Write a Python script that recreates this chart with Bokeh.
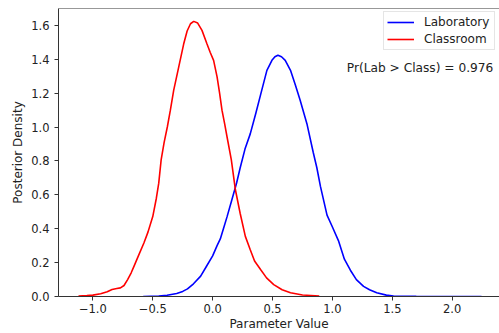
from bokeh.plotting import figure
from bokeh.models import Range1d, FixedTicker, Span, Label, Legend, LegendItem
from bokeh.embed import file_html
from bokeh.resources import INLINE

# Classroom posterior density (red)
class_x = [-1.12, -1.05, -1.0, -0.935, -0.88, -0.84, -0.80, -0.77, -0.74, -0.71,
           -0.68, -0.657, -0.62, -0.574, -0.54, -0.50, -0.47, -0.45, -0.43, -0.405,
           -0.378, -0.353, -0.325, -0.283, -0.242, -0.213, -0.185, -0.158, -0.125, -0.089,
           -0.047, -0.02, 0.008, 0.037, 0.058, 0.078, 0.10, 0.12, 0.156, 0.19,
           0.23, 0.273, 0.314, 0.35, 0.40, 0.45, 0.51, 0.58, 0.65, 0.75, 0.89]
class_y = [0.002, 0.005, 0.008, 0.016, 0.028, 0.041, 0.047, 0.051, 0.065, 0.10,
           0.14, 0.178, 0.24, 0.316, 0.38, 0.472, 0.58, 0.669, 0.806, 0.91,
           1.002, 1.10, 1.218, 1.355, 1.49, 1.567, 1.61, 1.624, 1.614, 1.571,
           1.49, 1.44, 1.394, 1.296, 1.20, 1.10, 1.02, 0.943, 0.806, 0.63,
           0.49, 0.355, 0.276, 0.21, 0.159, 0.11, 0.07, 0.04, 0.022, 0.009, 0.003]

# Laboratory posterior density (blue)
lab_x = [-0.58, -0.45, -0.38, -0.30, -0.25, -0.21, -0.16, -0.10, -0.05, 0.0,
         0.037, 0.064, 0.09, 0.12, 0.16, 0.20, 0.23, 0.27, 0.314, 0.36,
         0.40, 0.453, 0.495, 0.52, 0.545, 0.575, 0.606, 0.65, 0.69, 0.73,
         0.787, 0.84, 0.87, 0.90, 0.955, 1.00, 1.05, 1.10, 1.15, 1.20,
         1.26, 1.31, 1.37, 1.45, 1.51, 1.70, 2.00, 2.245]
lab_y = [0.0, 0.003, 0.007, 0.018, 0.03, 0.045, 0.075, 0.12, 0.18, 0.24,
         0.30, 0.34, 0.40, 0.47, 0.57, 0.67, 0.76, 0.87, 0.96, 1.08,
         1.19, 1.335, 1.394, 1.415, 1.424, 1.415, 1.394, 1.335, 1.25, 1.16,
         1.02, 0.85, 0.76, 0.65, 0.48, 0.41, 0.33, 0.22, 0.155, 0.10,
         0.06, 0.04, 0.022, 0.008, 0.003, 0.001, 0.0, 0.0]

x_ticks = [-1.0, -0.5, 0.0, 0.5, 1.0, 1.5, 2.0]
x_tick_labels = ["\u22121.0", "\u22120.5", "0.0", "0.5", "1.0", "1.5", "2.0"]
y_ticks = [0.0, 0.2, 0.4, 0.6, 0.8, 1.0, 1.2, 1.4, 1.6]
y_tick_labels = ["0.0", "0.2", "0.4", "0.6", "0.8", "1.0", "1.2", "1.4", "1.6"]

annotation_text = "Pr(Lab > Class) = 0.976"

FONT = "DejaVu Sans"
AX = "#333333"

p = figure(width=499, height=333, output_backend="svg", toolbar_location=None,
           x_range=Range1d(-1.287, 2.395), y_range=Range1d(0, 1.7),
           min_border_left=58, min_border_right=0, min_border_top=8,
           min_border_bottom=36)
p.outline_line_color = None
p.grid.visible = False
p.background_fill_color = "white"
p.border_fill_color = "white"

r_lab = p.line(lab_x, lab_y, line_color="blue", line_width=1.6)
r_class = p.line(class_x, class_y, line_color="red", line_width=1.6)

for ax in (p.xaxis[0], p.yaxis[0]):
    ax.axis_line_color = AX
    ax.axis_line_width = 1
    ax.major_tick_line_color = AX
    ax.major_tick_out = 4
    ax.major_tick_in = 0
    ax.minor_tick_line_color = None
    ax.major_label_text_font = FONT
    ax.major_label_text_font_size = "11.5px"
    ax.major_label_text_color = "#222222"
    ax.axis_label_text_font = FONT
    ax.axis_label_text_font_size = "12px"
    ax.axis_label_text_font_style = "normal"
    ax.axis_label_text_color = "#222222"

p.xaxis.ticker = FixedTicker(ticks=x_ticks)
p.xaxis.major_label_overrides = dict(zip(x_ticks, x_tick_labels))
p.xaxis.axis_label = "Parameter Value"
p.xaxis.major_label_standoff = 3
p.xaxis.axis_label_standoff = 1

p.yaxis.ticker = FixedTicker(ticks=y_ticks)
p.yaxis.major_label_overrides = dict(zip(y_ticks, y_tick_labels))
p.yaxis.axis_label = "Posterior Density"
p.yaxis.major_label_standoff = 5
p.yaxis.axis_label_standoff = 3

top_spine = Span(location=1.7, dimension="width", line_color=AX, line_width=1)
p.add_layout(top_spine)

p.add_layout(Label(x=1.12, y=1.35, text=annotation_text, text_font=FONT,
                   text_font_size="12.2px", text_color="#222222",
                   text_baseline="alphabetic"))

legend = Legend(items=[LegendItem(label="Laboratory", renderers=[r_lab]),
                       LegendItem(label="Classroom", renderers=[r_class])],
                location=(325, 246), padding=3, spacing=3, margin=0,
                glyph_width=27, glyph_height=14, label_standoff=10,
                label_width=67, label_text_font=FONT, label_text_font_size="12px",
                label_text_color="#222222", border_line_color="#cccccc",
                border_line_width=1, background_fill_alpha=0.8)
p.add_layout(legend)

open("out.html", "w").write(file_html(p, INLINE))
